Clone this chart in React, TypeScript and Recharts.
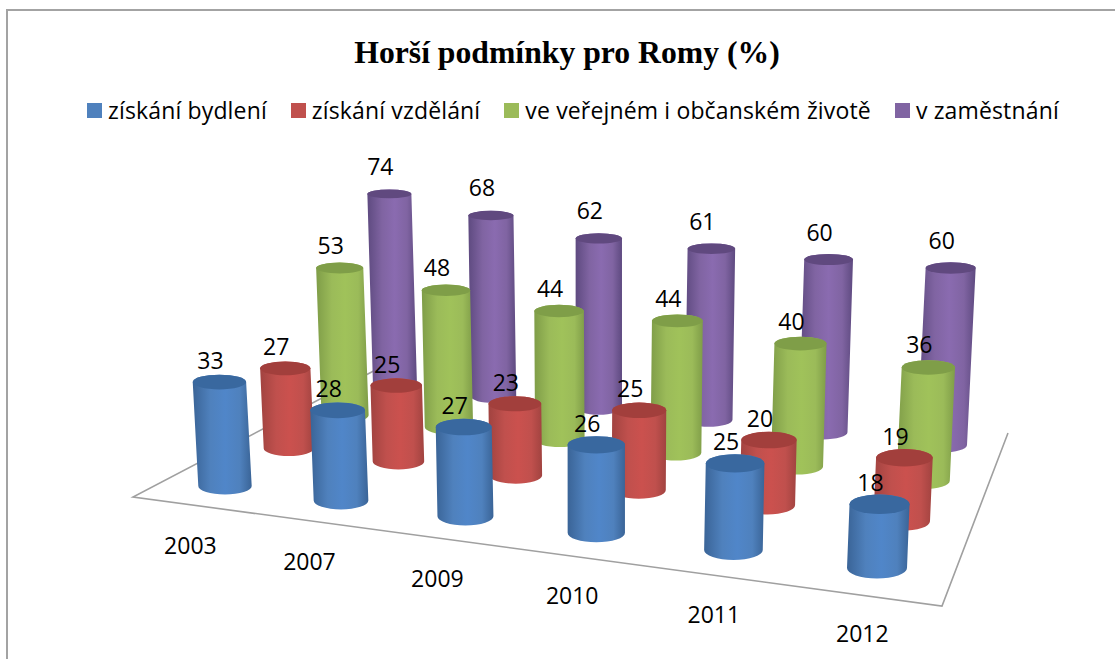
import { Bar, BarChart, LabelList, Legend, XAxis, YAxis } from "recharts";

const years = ["2003", "2007", "2009", "2010", "2011", "2012"];
const housing = [33, 28, 27, 26, 25, 18];
const education = [27, 25, 23, 25, 20, 19];
const publicLife = [53, 48, 44, 44, 40, 36];
const employment = [74, 68, 62, 61, 60, 60];

const chartData = years.map((year, i) => ({
  year,
  housing: housing[i],
  education: education[i],
  publicLife: publicLife[i],
  employment: employment[i],
}));

const WIDTH = 1115;
const HEIGHT = 659;
const PLOT_HEIGHT = 300;
const FONT = '"Open Sans", sans-serif';

// floor positions of the corner columns: blue 2003, blue 2012, purple 2012, purple 2003
const quad = [
  [225, 486],
  [877, 568],
  [942, 445],
  [395, 386],
];
const cornerRadius = [26.7, 30, 25, 22];
const labelLift = [13, 13, 14, 19];

const makeHomography = (q: number[][]) => {
  const [[x0, y0], [x1, y1], [x2, y2], [x3, y3]] = q;
  const dx1 = x1 - x2;
  const dx2 = x3 - x2;
  const sx = x0 - x1 + x2 - x3;
  const dy1 = y1 - y2;
  const dy2 = y3 - y2;
  const sy = y0 - y1 + y2 - y3;
  const den = dx1 * dy2 - dx2 * dy1;
  const g = (sx * dy2 - dx2 * sy) / den;
  const h = (dx1 * sy - sx * dy1) / den;
  const a = x1 - x0 + g * x1;
  const b = x3 - x0 + h * x3;
  const d = y1 - y0 + g * y1;
  const e = y3 - y0 + h * y3;
  return (u: number, v: number) => {
    const w = g * u + h * v + 1;
    return { x: (a * u + b * v + x0) / w, y: (d * u + e * v + y0) / w };
  };
};

const floorPoint = makeHomography(quad);

// slightly stronger foreshortening along the category direction
const categoryPos = (index: number) => Math.pow(index / (years.length - 1), 1.025);

// depth: 0 front row (blue) .. 3 back row (purple)
const column = (index: number, depth: number, barHeight: number) => {
  const u = categoryPos(index);
  const v = depth / 3;
  const base = floorPoint(u, v);
  const rx =
    (cornerRadius[0] * (1 - u) + cornerRadius[1] * u) * (1 - v) +
    (cornerRadius[3] * (1 - u) + cornerRadius[2] * u) * v;
  const h = (barHeight * (rx * 0.118)) / (PLOT_HEIGHT / 100);
  const lean = ((base.x - 600) / 7000) * h;
  const top = { x: base.x + lean, y: base.y - h };
  return { base, top, rx };
};

const flatness = (y: number) => 0.2 + (y - 190) * 0.0004;

type Palette = { id: string; fill: string; edge: string; mid: string; cap: string };

const palettes: Palette[] = [
  { id: "blue", fill: "#4f81bd", edge: "#3a6497", mid: "#5086c9", cap: "#39689f" },
  { id: "red", fill: "#c0504d", edge: "#a14340", mid: "#cb514e", cap: "#a23f3c" },
  { id: "green", fill: "#9bbb59", edge: "#7f9d48", mid: "#a0c25a", cap: "#7f9e48" },
  { id: "purple", fill: "#8064a2", edge: "#5e4a80", mid: "#8a6bb0", cap: "#60497f" },
];

const Cylinder = (depth: number) => (props: any) => {
  const { index, height } = props;
  const { base, top, rx } = column(index, depth, height);
  const ryTop = rx * flatness(top.y);
  const ryBase = rx * flatness(base.y);
  const p = palettes[depth];
  const body = [
    `M${top.x - rx},${top.y}`,
    `L${base.x - rx},${base.y}`,
    `A${rx},${ryBase} 0 0 0 ${base.x + rx},${base.y}`,
    `L${top.x + rx},${top.y}`,
    `A${rx},${ryTop} 0 0 0 ${top.x - rx},${top.y}`,
    "Z",
  ].join(" ");
  return (
    <g>
      <path d={body} fill={`url(#body-${p.id})`} />
      <ellipse cx={top.x} cy={top.y} rx={rx} ry={ryTop} fill={p.cap} />
    </g>
  );
};

const ValueLabel = (depth: number) => (props: any) => {
  const { index, height, value } = props;
  const { top } = column(index, depth, height);
  return (
    <text
      x={top.x - 9}
      y={top.y - labelLift[depth]}
      textAnchor="middle"
      fontFamily={FONT}
      fontSize={23}
      fill="#000"
    >
      {value}
    </text>
  );
};

const YearTick = (props: any) => {
  const { payload } = props;
  const u = categoryPos(payload.index);
  const p = floorPoint(u, -0.2);
  return (
    <text
      x={p.x + 2 + 6 * (1 - u)}
      y={p.y + 43}
      textAnchor="middle"
      fontFamily={FONT}
      fontSize={23}
      fill="#000"
    >
      {payload.value}
    </text>
  );
};

const LegendRow = ({ payload }: any) => (
  <div
    style={{
      display: "flex",
      fontFamily: FONT,
      fontSize: 23,
      letterSpacing: 0.15,
      lineHeight: "30px",
    }}
  >
    {[...(payload ?? [])].reverse().map((item: any) => (
      <div
        key={item.value}
        style={{ display: "flex", alignItems: "center", marginRight: 24 }}
      >
        <span
          style={{
            width: 15,
            height: 15,
            background: item.color,
            marginRight: 6,
            display: "inline-block",
          }}
        />
        <span>{item.value}</span>
      </div>
    ))}
  </div>
);

export default function App() {
  return (
    <div
      style={{
        position: "absolute",
        left: 0,
        top: 0,
        width: WIDTH,
        height: HEIGHT,
        overflow: "hidden",
        background: "#fff",
      }}
    >
      <div
        style={{
          position: "absolute",
          left: 6,
          top: 9,
          right: 0,
          bottom: 0,
          borderLeft: "2px solid #a3a3a3",
          borderTop: "2px solid #a3a3a3",
        }}
      />
      <BarChart
        width={WIDTH}
        height={HEIGHT}
        data={chartData}
        margin={{ top: 100, right: 0, bottom: 199, left: 0 }}
      >
        <defs>
          {palettes.map((p) => (
            <linearGradient key={p.id} id={`body-${p.id}`} x1="0" y1="0" x2="1" y2="0">
              <stop offset="0%" stopColor={p.edge} />
              <stop offset="30%" stopColor={p.fill} />
              <stop offset="55%" stopColor={p.mid} />
              <stop offset="80%" stopColor={p.fill} />
              <stop offset="100%" stopColor={p.edge} />
            </linearGradient>
          ))}
        </defs>
        <text
          x={567}
          y={63}
          textAnchor="middle"
          fontFamily='"Liberation Serif", serif'
          fontWeight="bold"
          fontSize={31.7}
          fill="#000"
        >
          Horší podmínky pro Romy (%)
        </text>
        <polyline
          points="385,365 133,497 942,606 1008,433"
          fill="none"
          stroke="#a0a0a0"
          strokeWidth={1.6}
        />
        <XAxis
          dataKey="year"
          axisLine={false}
          tickLine={false}
          tick={YearTick}
          height={30}
          interval={0}
        />
        <YAxis hide domain={[0, 100]} />
        <Legend
          content={LegendRow}
          itemSorter={null}
          wrapperStyle={{ position: "absolute", left: 87, top: 95, width: 1028 }}
        />
        <Bar
          dataKey="employment"
          name="v zaměstnání"
          fill={palettes[3].fill}
          shape={Cylinder(3)}
          isAnimationActive={false}
        >
          <LabelList dataKey="employment" content={ValueLabel(3)} />
        </Bar>
        <Bar
          dataKey="publicLife"
          name="ve veřejném i občanském životě"
          fill={palettes[2].fill}
          shape={Cylinder(2)}
          isAnimationActive={false}
        >
          <LabelList dataKey="publicLife" content={ValueLabel(2)} />
        </Bar>
        <Bar
          dataKey="education"
          name="získání vzdělání"
          fill={palettes[1].fill}
          shape={Cylinder(1)}
          isAnimationActive={false}
        >
          <LabelList dataKey="education" content={ValueLabel(1)} />
        </Bar>
        <Bar
          dataKey="housing"
          name="získání bydlení"
          fill={palettes[0].fill}
          shape={Cylinder(0)}
          isAnimationActive={false}
        >
          <LabelList dataKey="housing" content={ValueLabel(0)} />
        </Bar>
      </BarChart>
    </div>
  );
}
